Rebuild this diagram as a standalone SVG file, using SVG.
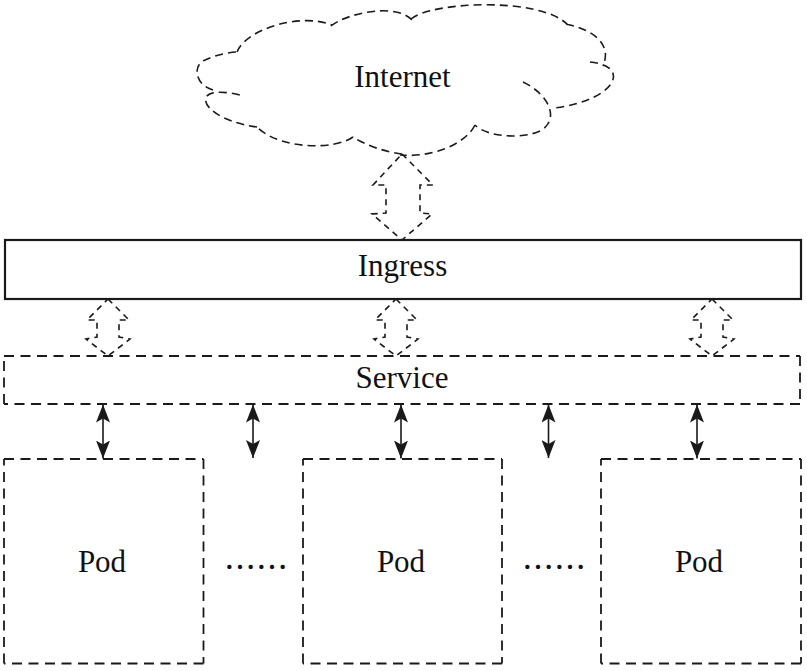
<svg xmlns="http://www.w3.org/2000/svg" width="807" height="671" viewBox="0 0 807 671">
<style>
.lbl{font-family:"Liberation Serif","Times New Roman",serif;font-size:31px;fill:#111;text-anchor:middle}
.dots{font-family:"Noto Sans CJK SC",sans-serif;font-size:32px;fill:#111;text-anchor:middle}
.solid{fill:none;stroke:#1a1a1a;stroke-width:2.2}
.dbox{fill:none;stroke:#1a1a1a;stroke-width:1.8;stroke-dasharray:10 6.5}
.cloud{fill:none;stroke:#1a1a1a;stroke-width:1.6;stroke-dasharray:8 5}
.hollow{fill:none;stroke:#1a1a1a;stroke-width:1.6;stroke-dasharray:6 5}
.arr{fill:none;stroke:#1a1a1a;stroke-width:1.6;marker-start:url(#ah);marker-end:url(#ah)}
</style>
<defs>
<marker id="ah" viewBox="0 0 18 14" refX="18" refY="7" markerWidth="18" markerHeight="14" orient="auto-start-reverse" markerUnits="userSpaceOnUse">
<path d="M0,0 L18,7 L0,14 L4,7 Z" fill="#1a1a1a"/>
</marker>
</defs>
<rect width="807" height="671" fill="#fff"/>
<g id="internet">
<path class="cloud" d="M237,52 C245,30 300,12 332,25 M331,26 C345,14 395,2 412,20 M411,19 C430,2 540,-4 568,25 M566,24 C595,30 612,45 603,66 M590,62 C632,66 616,100 555,108 M523,82 C550,95 560,120 540,131 C520,140 485,136 475,125 M475,125 C465,145 430,158 400,155 M402,154 C385,152 365,145 353,137 M353,137 C335,150 280,150 257,127 M257,127 C220,122 200,105 207,96 C212,90 230,92 243,96 M213,90 C195,85 192,65 205,60 C215,55 230,52 237,52"/>
<text class="lbl" x="402.5" y="87">Internet</text>
</g>
<g id="ingress">
<rect class="solid" x="5" y="240" width="796" height="59"/>
<text class="lbl" x="402.5" y="276">Ingress</text>
</g>
<g id="service">
<path class="dbox" d="M4,356 H800 M800,356 V404 M800,404 H4 M4,404 V356"/>
<text class="lbl" x="402" y="388">Service</text>
</g>
<g id="pod1">
<path class="dbox" d="M4,459 H203.5 M203.5,459 V663.5 M203.5,663.5 H4 M4,663.5 V459"/>
<text class="lbl" x="102" y="572">Pod</text>
</g>
<g id="pod2">
<path class="dbox" d="M303,459 H502 M502,459 V663.5 M502,663.5 H303 M303,663.5 V459"/>
<text class="lbl" x="401" y="572">Pod</text>
</g>
<g id="pod3">
<path class="dbox" d="M601,459 H801 M801,459 V663.5 M801,663.5 H601 M601,663.5 V459"/>
<text class="lbl" x="699" y="572">Pod</text>
</g>
<g id="ellipsis1"><text class="dots" x="256" y="579">……</text></g>
<g id="ellipsis2"><text class="dots" x="554" y="579">……</text></g>
<g id="connectors">
<path class="hollow" d="M402,154 L433,185 L420,185 L420,213 L432,214 L402,240 L372,214 L386,213 L386,185 L373,185 Z"/>
<path class="hollow" d="M108,299 L129,320 L119,320 L119,337 L130,339 L108,356 L86,339 L97,337 L97,320 L87,320 Z"/>
<path class="hollow" d="M396,299 L417,320 L407,320 L407,337 L418,339 L396,356 L374,339 L385,337 L385,320 L375,320 Z"/>
<path class="hollow" d="M712,299 L733,320 L723,320 L723,337 L734,339 L712,356 L690,339 L701,337 L701,320 L691,320 Z"/>
<line class="arr" x1="103" y1="404.5" x2="103" y2="458.5"/>
<line class="arr" x1="253" y1="404.5" x2="253" y2="458"/>
<line class="arr" x1="401" y1="404.5" x2="401" y2="458.5"/>
<line class="arr" x1="548.5" y1="404.5" x2="548.5" y2="458"/>
<line class="arr" x1="697" y1="404.5" x2="697" y2="458.5"/>
</g>
</svg>
